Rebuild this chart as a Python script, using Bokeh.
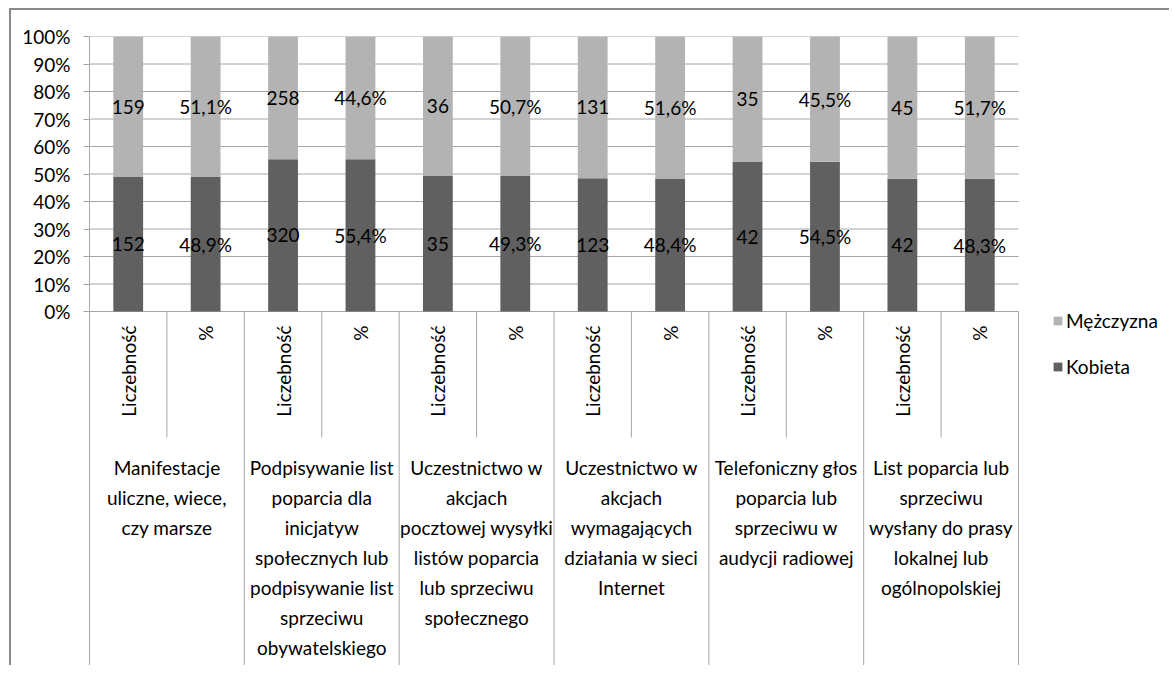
import math
from bokeh.plotting import figure
from bokeh.models import ColumnDataSource, Range1d, FixedTicker, NumeralTickFormatter, Legend, LegendItem
from bokeh.core.properties import value
from bokeh.embed import file_html
from bokeh.resources import INLINE

# ---- data ----
group_labels = [
    ["Manifestacje", "uliczne, wiece,", "czy marsze"],
    ["Podpisywanie list", "poparcia dla", "inicjatyw", "społecznych lub",
     "podpisywanie list", "sprzeciwu", "obywatelskiego"],
    ["Uczestnictwo w", "akcjach", "pocztowej wysyłki", "listów poparcia",
     "lub sprzeciwu", "społecznego"],
    ["Uczestnictwo w", "akcjach", "wymagających", "działania w sieci", "Internet"],
    ["Telefoniczny głos", "poparcia lub", "sprzeciwu w", "audycji radiowej"],
    ["List poparcia lub", "sprzeciwu", "wysłany do prasy", "lokalnej lub",
     "ogólnopolskiej"],
]
sub_labels = ["Liczebność", "%"]
series_names = ["Kobieta", "Mężczyzna"]
kobieta_n = [152, 320, 35, 123, 42, 42]
mezczyzna_n = [159, 258, 36, 131, 35, 45]
kobieta_pct = [48.9, 55.4, 49.3, 48.4, 54.5, 48.3]
mezczyzna_pct = [51.1, 44.6, 50.7, 51.6, 45.5, 51.7]
y_ticks = [0, 0.1, 0.2, 0.3, 0.4, 0.5, 0.6, 0.7, 0.8, 0.9, 1.0]

# ---- build bar table ----
xs, k_share, m_share, k_txt, m_txt = [], [], [], [], []
for g in range(len(group_labels)):
    tot = kobieta_n[g] + mezczyzna_n[g]
    xs.append(2 * g + 0.5)
    k_share.append(kobieta_n[g] / tot)
    m_share.append(mezczyzna_n[g] / tot)
    k_txt.append(str(kobieta_n[g]))
    m_txt.append(str(mezczyzna_n[g]))
    xs.append(2 * g + 1.5)
    k_share.append(kobieta_pct[g] / 100)
    m_share.append(mezczyzna_pct[g] / 100)
    k_txt.append(f"{kobieta_pct[g]:.1f}".replace(".", ",") + "%")
    m_txt.append(f"{mezczyzna_pct[g]:.1f}".replace(".", ",") + "%")

src = ColumnDataSource(dict(x=xs, Kobieta=k_share, **{"Mężczyzna": m_share}))

n_bars = len(xs)
FONT = value("Lato")
FS = value("19px")
GRID = "#a6a6a6"

W, H = 1160, 657
LEFT, TOP = 78, 26
PLOT_W = 929           # pixels spanned by the 12 categories
ZERO_PX = 275          # pixels from 0% to 100%
frame_h = H - TOP
y_bottom = 1.0 - frame_h / ZERO_PX
x_end = n_bars * (W - LEFT) / PLOT_W

p = figure(width=W, height=H, output_backend="svg", toolbar_location=None,
           x_range=Range1d(0, x_end), y_range=Range1d(y_bottom, 1.0),
           x_axis_type=None, min_border_left=LEFT, min_border_top=TOP,
           min_border_bottom=0, min_border_right=0)
p.styles = {"margin-left": "9px", "margin-top": "8px",
            "border-top": "2px solid #8a8a8a", "border-left": "2px solid #8a8a8a"}
p.outline_line_color = None
p.xgrid.visible = False
p.ygrid.visible = False
p.yaxis.ticker = FixedTicker(ticks=y_ticks)
p.yaxis.formatter = NumeralTickFormatter(format="0%")
p.yaxis.axis_line_color = GRID
p.yaxis.major_tick_line_color = GRID
p.yaxis.major_tick_out = 6
p.yaxis.major_tick_in = 0
p.yaxis.minor_tick_line_color = None
p.yaxis.major_label_standoff = 13
p.yaxis.major_label_text_font = "Lato"
p.yaxis.major_label_text_font_size = "19px"
p.yaxis.major_label_text_color = "black"

# horizontal gridlines limited to the category area
p.segment(x0=[0] * len(y_ticks), y0=y_ticks, x1=[n_bars] * len(y_ticks), y1=y_ticks,
          line_color=GRID, line_width=1)

rs = p.vbar_stack(series_names, x="x", width=0.385, source=src,
                  color=["#606060", "#b3b3b3"], line_color=None)

# data labels
ky = [s / 2 for s in k_share]
my = [k + m / 2 for k, m in zip(k_share, m_share)]
p.text(x=xs + xs, y=ky + my, text=k_txt + m_txt, text_font=FONT, text_font_size=FS,
       text_align="center", text_baseline="middle", text_color="black")

# category axis separators
sub_sep_x = [2 * g + 1 for g in range(len(group_labels))]
grp_sep_x = [2 * g + 2 for g in range(len(group_labels))]
p.segment(x0=sub_sep_x, y0=[0] * len(sub_sep_x), x1=sub_sep_x,
          y1=[-126 / ZERO_PX] * len(sub_sep_x), line_color=GRID, line_width=1)
p.segment(x0=grp_sep_x, y0=[0] * len(grp_sep_x), x1=grp_sep_x,
          y1=[y_bottom] * len(grp_sep_x), line_color=GRID, line_width=1)

# sub-category labels (rotated)
sub_txt = [sub_labels[i % 2] for i in range(n_bars)]
p.text(x=xs, y=[-14 / ZERO_PX] * n_bars, text=sub_txt, angle=math.pi / 2,
       text_font=FONT, text_font_size=FS, text_align="right", text_baseline="middle",
       text_color="black")

# group labels
gx, gy, gt = [], [], []
for g, lines in enumerate(group_labels):
    for j, line in enumerate(lines):
        gx.append(2 * g + 1)
        gy.append((-156 - 30 * j) / ZERO_PX)
        gt.append(line)
p.text(x=gx, y=gy, text=gt, text_font=FONT, text_font_size=FS,
       text_align="center", text_baseline="middle", text_color="black")

legend = Legend(items=[LegendItem(label="Mężczyzna", renderers=[rs[1]]),
                       LegendItem(label="Kobieta", renderers=[rs[0]])],
                location=(963, 289), orientation="vertical",
                glyph_width=11, glyph_height=11, label_height=24, spacing=22,
                label_standoff=3, padding=0, margin=0,
                border_line_color=None, background_fill_alpha=0,
                label_text_font="Lato", label_text_font_size="19px",
                label_text_color="black")
p.add_layout(legend, "center")

open("out.html", "w").write(file_html(p, INLINE))
